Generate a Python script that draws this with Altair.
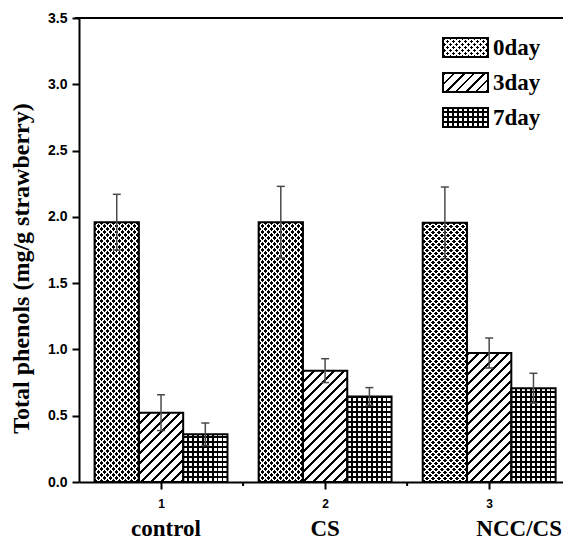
import altair as alt
import pandas as pd

# ---------------- data ----------------
groups = ["control", "CS", "NCC/CS"]
group_pos = [1, 2, 3]
series = ["0day", "3day", "7day"]
mean_0day = [1.96, 1.96, 1.955]
err_0day = [0.21, 0.27, 0.27]
mean_3day = [0.523, 0.84, 0.973]
err_3day = [0.135, 0.09, 0.113]
mean_7day = [0.36, 0.645, 0.708]
err_7day = [0.085, 0.067, 0.112]
y_ticks = [0.0, 0.5, 1.0, 1.5, 2.0, 2.5, 3.0, 3.5]
x_ticks = [1, 2, 3]
x_minor_ticks = [1.5, 2.5]
label_shift_px = [5, 0, 30]   # category label horizontal nudges

# ---------------- layout ----------------
W, H = 484, 464
X_DOM = [0.5, 3.45]
Y_DOM = [0.0, 3.5]
PXX = W / (X_DOM[1] - X_DOM[0])
PXY = H / (Y_DOM[1] - Y_DOM[0])
BAR = 0.27
CAP = 4.0 / PXX
SERIF = "Liberation Serif"
SANS = "Liberation Sans"

means = [mean_0day, mean_3day, mean_7day]
errs = [err_0day, err_3day, err_7day]
rows = []
for gi, g in enumerate(groups):
    for si, s in enumerate(series):
        v = means[si][gi]
        e = errs[si][gi]
        x0 = group_pos[gi] + (si - 1.5) * BAR
        rows.append(dict(group=g, series=s, key=f"{g}|{s}", value=v, err=e,
                         base=0.0, x0=x0, x1=x0 + BAR, xc=x0 + BAR / 2,
                         cl=x0 + BAR / 2 - CAP, cr=x0 + BAR / 2 + CAP,
                         lo=v - e, hi=v + e))
df = pd.DataFrame(rows)

xs = alt.Scale(domain=X_DOM, nice=False, zero=False)
ys = alt.Scale(domain=Y_DOM, nice=False)

XA = alt.Axis(values=x_ticks, format="d", title=None, tickSize=7,
              labelPadding=9, labelFontSize=12, labelFont=SANS,
              labelFontWeight="bold")
YA = alt.Axis(values=y_ticks, format=".1f",
              title="Total phenols (mg/g strawberry)", tickSize=7,
              labelPadding=5, labelFontSize=14, labelFont=SANS,
              labelFontWeight="bold", titleFont=SERIF, titleFontSize=24,
              titleFontWeight="bold", titleX=-58, titleY=250,
              titleAngle=-90, titleAlign="center", titleBaseline="middle")

CLEAR = "rgba(255,255,255,0)"


def segs(L, pitch, width, phase):
    out = []
    cur = 0.0
    k = -2
    while True:
        a = phase + k * pitch
        if a >= L:
            break
        b = a + width
        k += 1
        if b <= 0:
            continue
        a2, b2 = max(a, 0.0), min(b, L)
        if a2 > cur:
            out.append((cur, a2, False))
        out.append((a2, b2, True))
        cur = b2
    if cur < L:
        out.append((cur, L, False))
    return out


def grad(kind, w, h, pitch, width, on, off, phase=0.0):
    k = (w + h) / (w * w + h * h)
    if kind == "up":
        geo = dict(x1=0, y1=0, x2=w * k, y2=h * k)
        L = w + h
    elif kind == "down":
        geo = dict(x1=0, y1=1, x2=w * k, y2=1 - h * k)
        L = w + h
    elif kind == "vert":
        geo = dict(x1=0, y1=0, x2=1, y2=0)
        L = w
    else:
        geo = dict(x1=0, y1=0, x2=0, y2=1)
        L = h
    stops = []
    for a, b, isline in segs(L, pitch, width, phase):
        c = on if isline else off
        stops.append({"offset": round(a / L, 5), "color": c})
        stops.append({"offset": round(b / L, 5), "color": c})
    return {"gradient": "linear", **geo, "stops": stops}


def pattern_fills(name, w, h):
    """fills from bottom to top for a pattern in a w x h box"""
    if name == "0day":
        return ["black",
                grad("up", w, h, 6.0, 3.9, CLEAR, "white"),
                grad("down", w, h, 6.0, 3.9, CLEAR, "white")]
    if name == "3day":
        return ["white", grad("up", w, h, 10.0, 3.0, "black", "white")]
    return [grad("vert", w, h, w / 9.0, 1.6, "black", "white", phase=-0.8),
            grad("horiz", w, h, 5.0, 1.6, "black", CLEAR, phase=(h % 5.0) - 0.8)]


def bar_enc():
    return dict(x=alt.X("x0:Q", scale=xs, axis=XA), x2="x1:Q",
                y=alt.Y("value:Q", scale=ys, axis=YA), y2="base:Q")


layers = []
BW = BAR * PXX
for s in series:
    sub = df[df.series == s]
    for _, r in sub.iterrows():
        h = r["value"] * PXY
        for f in pattern_fills(s, BW, h):
            layers.append(
                alt.Chart(df).transform_filter(alt.datum.key == r["key"])
                .mark_rect(fill=f, strokeWidth=0)
                .encode(**bar_enc())
            )

# outlines
layers.append(alt.Chart(df).mark_rect(fill="transparent", stroke="black",
                                      strokeWidth=2).encode(**bar_enc()))

# error bars
ERRC = "#4a4a4a"
layers.append(alt.Chart(df).mark_rule(color=ERRC, strokeWidth=1.5).encode(
    x=alt.X("xc:Q", scale=xs, axis=XA),
    y=alt.Y("lo:Q", scale=ys, axis=YA), y2="hi:Q"))
for fld in ["hi", "lo"]:
    layers.append(alt.Chart(df).mark_rule(color=ERRC, strokeWidth=1.5).encode(
        x=alt.X("cl:Q", scale=xs, axis=XA), x2="cr:Q",
        y=alt.Y(f"{fld}:Q", scale=ys, axis=YA)))

# minor x ticks
layers.append(alt.Chart(pd.DataFrame({"t": x_minor_ticks})).mark_rule(
    color="black", strokeWidth=2).encode(
    x=alt.X("t:Q", scale=xs, axis=XA), y=alt.value(H), y2=alt.value(H + 4)))

# top frame line (right frame lies outside the picture)
layers.append(alt.Chart(pd.DataFrame({"t": [0]})).mark_rule(
    color="black", strokeWidth=2).encode(
    x=alt.value(-4), x2=alt.value(W + 2), y=alt.value(0)))

# category labels
lab = pd.DataFrame({"group": groups,
                    "lx": [p + d / PXX for p, d in zip(group_pos, label_shift_px)]})
layers.append(alt.Chart(lab).mark_text(font=SERIF, fontSize=23, fontWeight="bold",
                                       color="black", baseline="bottom").encode(
    x=alt.X("lx:Q", scale=xs, axis=XA), y=alt.value(H + 59), text="group:N"))

# legend
LX0, LX1 = 364, 409
LW, LH = LX1 - LX0, 19
for i, s in enumerate(series):
    yy = 20 + 35 * i
    d1 = pd.DataFrame({"series": [s]})
    for f in pattern_fills(s, LW, LH):
        layers.append(alt.Chart(d1).mark_rect(fill=f, strokeWidth=0).encode(
            x=alt.value(LX0), x2=alt.value(LX1), y=alt.value(yy), y2=alt.value(yy + LH)))
    layers.append(alt.Chart(d1).mark_rect(fill="transparent", stroke="black",
                                          strokeWidth=2).encode(
        x=alt.value(LX0), x2=alt.value(LX1), y=alt.value(yy), y2=alt.value(yy + LH)))
    layers.append(alt.Chart(d1).mark_text(font=SERIF, fontSize=23, fontWeight="bold",
                                          align="left", baseline="middle",
                                          color="black").encode(
        x=alt.value(LX1 + 5), y=alt.value(yy + LH / 2), text="series:N"))

chart = alt.layer(*layers).properties(
    width=W, height=H,
    autosize=alt.AutoSizeParams(type="none"),
    padding={"left": 71, "top": 10, "right": 0, "bottom": 61},
    background="white",
).configure_view(strokeWidth=0).configure_axis(
    grid=False, domainColor="black", domainWidth=2, tickColor="black",
    tickWidth=2, labelColor="black", titleColor="black")

chart.save("out.html", embed_options={"renderer": "svg", "actions": False})
